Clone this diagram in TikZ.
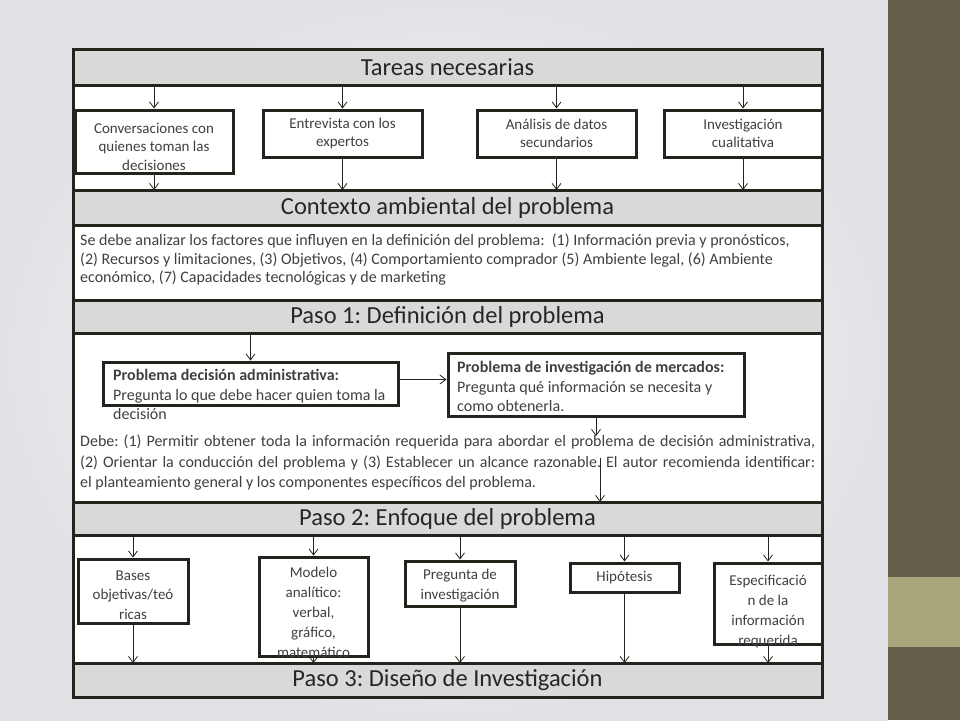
\documentclass[tikz,border=0pt]{standalone}
\usepackage{fontspec}
\setmainfont{Carlito}
\usetikzlibrary{arrows.meta}
\definecolor{framec}{RGB}{38,34,30}
\definecolor{barc}{RGB}{217,217,217}
\definecolor{stripc}{RGB}{101,94,72}
\definecolor{bandc}{RGB}{168,165,123}
\definecolor{txt}{RGB}{64,64,64}
\definecolor{hdr}{RGB}{38,38,38}
\definecolor{bgout}{RGB}{226,226,230}
\frenchspacing
\begin{document}
\begin{tikzpicture}[x=1pt,y=-1pt,
  secbox/.style={draw=framec, line width=3pt, fill=white, minimum width=749pt, inner sep=0pt, outer sep=0pt, anchor=north west},
  barbox/.style={secbox, fill=barc, font=\fontsize{24.5}{28}\selectfont, text=hdr},
  tbox/.style={draw=framec, line width=3pt, fill=white, inner sep=0pt, align=center, text=txt, font=\fontsize{15}{18.5}\selectfont},
  qbox/.style={tbox, font=\fontsize{15}{19.7}\selectfont},
  ttext/.style={inner sep=0pt, align=center, text=txt, font=\fontsize{15}{19.7}\selectfont},
  body/.style={inner sep=0pt, align=left, text=txt, anchor=north west},
  arr/.style={draw=framec, line width=0.8pt, -{Straight Barb[length=6pt,width=9pt,line width=0.8pt]}}
]
\useasboundingbox (0,0) rectangle (960,720);
% background
\shade[inner color=white, outer color=bgout] (0,0) rectangle (888,720);
\fill[stripc] (888,0) rectangle (960,720);
\fill[bandc] (888,577) rectangle (960,647);

% sections
\node[secbox, minimum height=105pt] (s1) at (73,85) {};
\node[secbox, minimum height=75pt] (s2) at (73,225) {};
\node[secbox, minimum height=169pt] (s3) at (73,333) {};
\node[secbox, minimum height=128pt] (s4) at (73,535) {};
\node[barbox, minimum height=36pt] (h1) at (73,49) {Tareas necesarias};
\node[barbox, minimum height=35pt] (h2) at (73,190) {Contexto ambiental del problema};
\node[barbox, minimum height=33pt] (h3) at (73,300) {Paso 1: Definición del problema};
\node[barbox, minimum height=33pt] (h4) at (73,502) {Paso 2: Enfoque del problema};
\node[barbox, minimum height=34pt] (h5) at (73,663) {Paso 3: Diseño de Investigación};

% tareas boxes
\node[tbox, minimum width=158pt, minimum height=63pt] (b1) at (154,141.5) {};
\node[ttext, font=\fontsize{15}{18.5}\selectfont] (t1) at (154,146.5) {Conversaciones con\\quienes toman las\\decisiones};
\node[tbox, minimum width=159pt, minimum height=47pt] (b2) at (342.5,133.5) {Entrevista con los\\expertos};
\node[tbox, minimum width=159pt, minimum height=47pt] (b3) at (556.5,133.5) {Análisis de datos\\secundarios};
\node[tbox, minimum width=158pt, minimum height=47pt] (b4) at (743,133.5) {Investigación\\cualitativa};
\foreach \b in {b1,b2,b3,b4}{
  \draw[arr] (\b.north |- h1.south) -- (\b.north);
  \draw[arr] (\b.south) -- (\b.south |- h2.north);
}

% contexto text
\node[body, font=\fontsize{16}{18.5}\selectfont] (ctx) at (80,234)
{Se debe analizar los factores que influyen en la definición del problema:\ \ (1) Información previa y pronósticos,\\
(2) Recursos y limitaciones, (3) Objetivos, (4) Comportamiento comprador (5) Ambiente legal, (6) Ambiente\\
económico, (7) Capacidades tecnológicas y de marketing};

% paso 1
\node[tbox, minimum width=295pt, minimum height=43pt] (pa) at (250.5,383.5) {};
\node[body, font=\fontsize{16}{19.5}\selectfont] (pat) at (113,369.5)
{\textbf{Problema decisión administrativa:}\\Pregunta lo que debe hacer quien toma la\\decisión};
\node[tbox, minimum width=296pt, minimum height=63pt] (pb) at (596,384.5) {};
\node[body, font=\fontsize{16}{19.5}\selectfont] (pbt) at (457,361.5)
{\textbf{Problema de investigación de mercados:}\\Pregunta qué información se necesita y\\como obtenerla.};
\draw[arr] (pa.north |- h3.south) -- (pa.north);
\draw[arr] ([yshift=4pt]pa.east) -- ([yshift=4pt]pa.east -| pb.west);
\coordinate (pbend) at (596,436);
\coordinate (dstart) at (600,458);
\draw[arr] (pb.south) -- (pbend);
\node[body, font=\fontsize{16}{20.5}\selectfont] (debe) at (80,435)
{\makebox[735pt][s]{Debe: (1) Permitir obtener toda la información requerida para abordar el problema de decisión administrativa,}\\
\makebox[735pt][s]{(2) Orientar la conducción del problema y (3) Establecer un alcance razonable. El autor recomienda identificar:}\\
el planteamiento general y los componentes específicos del problema.};
\draw[arr] (dstart) -- (dstart |- h4.north);

% paso 2 boxes
\node[qbox, minimum width=110pt, minimum height=64pt] (q1) at (133,591) {};
\node[ttext] (q1t) at (133,595) {Bases\\objetivas/teó\\ricas};
\node[qbox, minimum width=109pt, minimum height=99pt] (q2) at (313.5,606.5) {};
\node[ttext, anchor=north, font=\fontsize{15}{20}\selectfont] (q2t) at (313.5,566.5) {Modelo\\analítico:\\verbal,\\gráfico,\\matemático};
\node[qbox, minimum width=110pt, minimum height=45pt] (q3) at (460,583.5) {};
\node[ttext] (q3t) at (460,585.5) {Pregunta de\\investigación};
\node[qbox, minimum width=109pt, minimum height=29pt] (q4) at (624.5,577.5) {Hipótesis};
\node[qbox, minimum width=108pt, minimum height=81pt] (q5) at (768,603.5) {};
\node[ttext, anchor=north, font=\fontsize{15}{20}\selectfont] (q5t) at (768,575) {Especificació\\n de la\\información\\requerida};
\foreach \b in {q1,q2,q3,q4,q5}{
  \draw[arr] (\b.north |- h4.south) -- (\b.north);
  \draw[arr] (\b.south) -- (\b.south |- h5.north);
}
\end{tikzpicture}
\end{document}
